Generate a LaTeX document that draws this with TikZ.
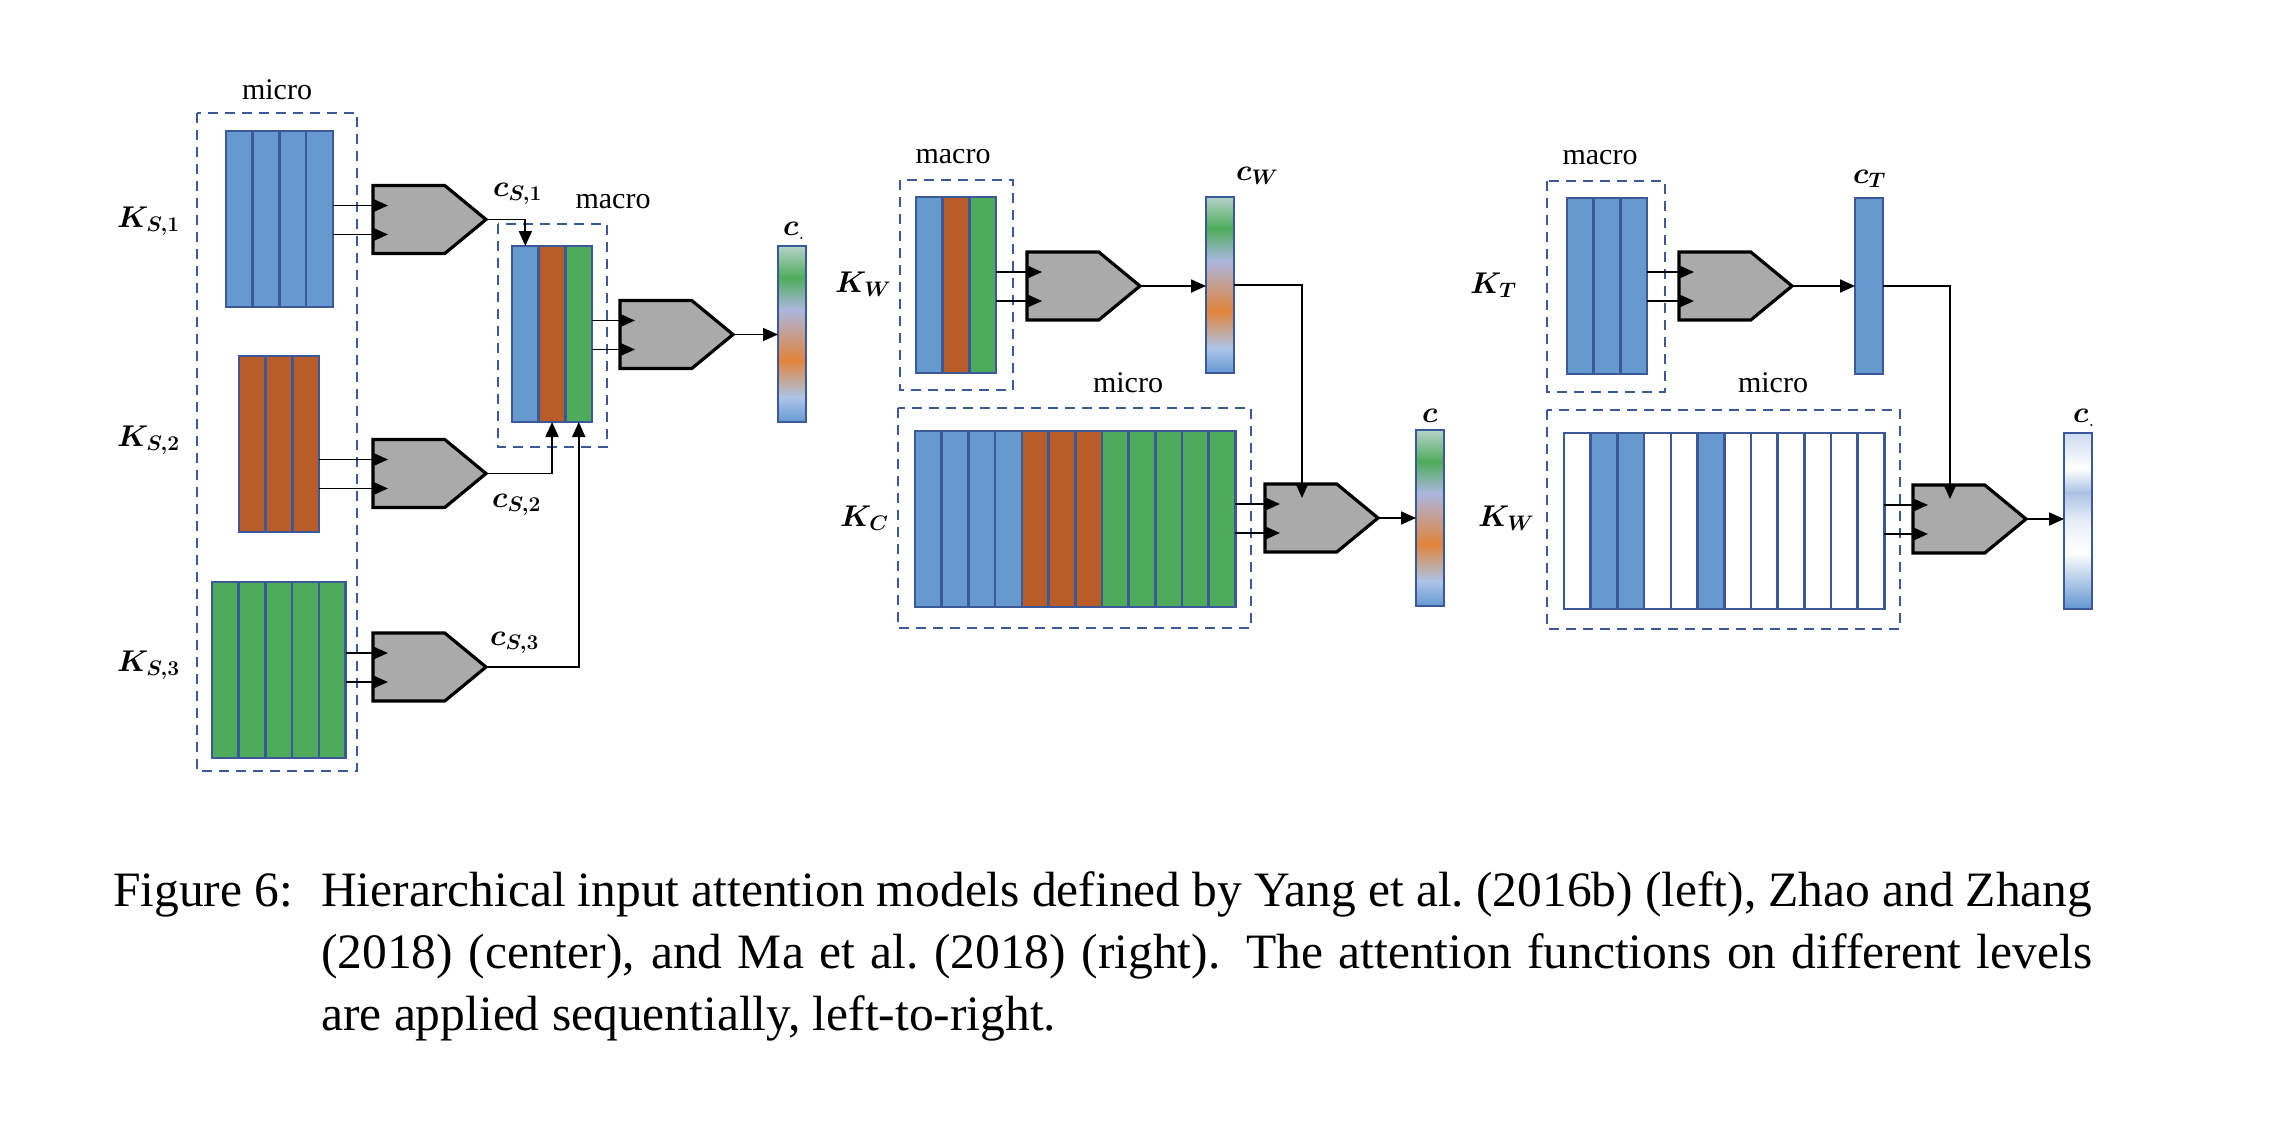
\RequirePackage{fix-cm}
\documentclass[tikz,border=0pt]{standalone}
\usepackage{fontspec}
\setmainfont{Liberation Serif}
\usepackage{bm}
\usetikzlibrary{arrows.meta,shapes.symbols,calc}
\definecolor{cblue}{RGB}{102,153,206}
\definecolor{corange}{RGB}{184,92,40}
\definecolor{cgreen}{RGB}{78,171,92}
\definecolor{cborder}{RGB}{59,89,152}
\definecolor{cgate}{RGB}{170,170,170}
\definecolor{cdash}{RGB}{59,89,152}
\definecolor{gA}{RGB}{182,210,200}
\definecolor{gG}{RGB}{78,172,92}
\definecolor{gL}{RGB}{172,182,222}
\definecolor{gO}{RGB}{224,132,60}
\definecolor{gB}{RGB}{172,196,232}
\definecolor{gD}{RGB}{102,152,210}
\definecolor{rA}{RGB}{205,218,240}
\definecolor{rB}{RGB}{172,194,228}
\definecolor{rC}{RGB}{232,238,247}
\definecolor{rD}{RGB}{100,150,208}
\newcommand\drawcols[3]{\foreach \cc [count=\i from 0] in {#3} {\filldraw[colcell, fill=\cc] ({#1+\i*26.7},#2) rectangle ({#1+(\i+1)*26.7},{#2+176});}}
\newcommand\gradbar[3]{\foreach \f/\c [remember=\f as \pf (initially 0), remember=\c as \pc (initially white)] in {#3} {\ifdim\f pt>\pf pt \fill[top color=\pc, bottom color=\c] (#1,{#2+\pf*176}) rectangle ({#1+28},{#2+\f*176});\fi}}
\newcommand\gateins[2]{\coordinate (#1a) at ($(#1.west)+(15,-14)$); \coordinate (#1b) at ($(#1.west)+(15,15)$); \draw[arr] (#2.east |- #1a) -- (#1a); \draw[arr] (#2.east |- #1b) -- (#1b);}
\begin{document}
\begin{tikzpicture}[x=1pt,y=-1pt,
  colcell/.style={draw=cborder, line width=2.6pt},
  blkframe/.style={draw=cborder, line width=2.6pt, minimum height=176pt, inner sep=0pt, outer sep=0pt, anchor=north west},
  dbox/.style={draw=cdash, line width=2.6pt, dash pattern=on 10pt off 7pt},
  gate/.style={signal, signal to=east, signal pointer angle=79, draw=black, fill=cgate, line width=3.2pt, minimum width=113pt, minimum height=68pt, inner sep=0pt, outer sep=0pt, anchor=west},
  conn/.style={draw=black, line width=1.8pt},
  arr/.style={conn, -{Triangle[length=15pt,width=13pt]}},
  vecf/.style={draw=cborder, line width=2.6pt, minimum width=28pt, minimum height=176pt, inner sep=0pt, outer sep=0pt, anchor=north west},
  lbl/.style={font=\fontsize{30}{36}\selectfont, inner sep=0pt, anchor=base},
  mlbl/.style={font=\fontsize{30}{36}\selectfont, inner sep=0pt, anchor=base west},
  captxt/.style={font=\fontsize{49.5}{62}\selectfont, inner sep=0pt, anchor=base west}]
\useasboundingbox (0,0) rectangle (2282,1120);
% dashed groups
\draw[dbox] (197,113) rectangle (357,771);
\draw[dbox] (498,224) rectangle (607,447);
\draw[dbox] (900,180) rectangle (1013,390);
\draw[dbox] (898,408) rectangle (1251,628);
\draw[dbox] (1547,181) rectangle (1665,392);
\draw[dbox] (1547,410) rectangle (1900,629);
% blocks
\drawcols{226}{131}{cblue,cblue,cblue,cblue}
\node[blkframe, minimum width=106.8pt] (KS1) at (226,131) {};
\drawcols{239}{356}{corange,corange,corange}
\node[blkframe, minimum width=80.1pt] (KS2) at (239,356) {};
\drawcols{212}{582}{cgreen,cgreen,cgreen,cgreen,cgreen}
\node[blkframe, minimum width=133.5pt] (KS3) at (212,582) {};
\drawcols{512}{246}{cblue,corange,cgreen}
\node[blkframe, minimum width=80.1pt] (MB) at (512,246) {};
\drawcols{916}{197}{cblue,corange,cgreen}
\node[blkframe, minimum width=80.1pt] (KW) at (916,197) {};
\drawcols{915}{431}{cblue,cblue,cblue,cblue,corange,corange,corange,cgreen,cgreen,cgreen,cgreen,cgreen}
\node[blkframe, minimum width=320.4pt] (KC) at (915,431) {};
\drawcols{1567}{198}{cblue,cblue,cblue}
\node[blkframe, minimum width=80.1pt] (KT) at (1567,198) {};
\drawcols{1564}{433}{white,cblue,cblue,white,white,cblue,white,white,white,white,white,white}
\node[blkframe, minimum width=320.4pt] (KR) at (1564,433) {};
% vectors
\gradbar{778}{246}{0/gA,0.18/gG,0.36/gL,0.65/gO,0.86/gB,1/gD}
\node[vecf] (cL) at (778,246) {};
\gradbar{1206}{197}{0/gA,0.18/gG,0.36/gL,0.65/gO,0.86/gB,1/gD}
\node[vecf] (cW) at (1206,197) {};
\gradbar{1416}{430}{0/gA,0.18/gG,0.36/gL,0.65/gO,0.86/gB,1/gD}
\node[vecf] (cC) at (1416,430) {};
\node[vecf, fill=cblue] (cT) at (1855,198) {};
\gradbar{2064}{433}{0/rA,0.2/white,0.34/rB,0.5/rC,0.68/white,1/rD}
\node[vecf] (cR) at (2064,433) {};
% gates
\node[gate] (G1) at (373,219.5) {};
\node[gate] (G2) at (373,473.5) {};
\node[gate] (G3) at (373,667) {};
\node[gate] (GM) at (620,334.5) {};
\node[gate] (GW) at (1027,286) {};
\node[gate] (GC) at (1265,518) {};
\node[gate] (GT) at (1679,286) {};
\node[gate] (GR) at (1913,519) {};
% inputs
\gateins{G1}{KS1}
\gateins{G2}{KS2}
\gateins{G3}{KS3}
\gateins{GM}{MB}
\gateins{GW}{KW}
\gateins{GC}{KC}
\gateins{GT}{KT}
\gateins{GR}{KR}
% outputs
\draw[arr] (G1.east) -| ($(MB.north west)+(13.35,0)$);
\draw[arr] (G2.east) -| ($(MB.south west)+(40.05,0)$);
\draw[arr] (G3.east) -| ($(MB.south west)+(66.75,0)$);
\draw[arr] (GM.east) -- (GM.east -| cL.west);
\draw[arr] (GW.east) -- (GW.east -| cW.west);
\draw[arr] (cW.east) -| ($(GC.west)+(37,-20)$);
\draw[arr] (GC.east) -- (GC.east -| cC.west);
\draw[arr] (GT.east) -- (GT.east -| cT.west);
\draw[arr] (cT.east) -| ($(GR.west)+(37,-20)$);
\draw[arr] (GR.east) -- (GR.east -| cR.west);
% text labels
\node[lbl] (tmicroL) at (277,99) {micro};
\node[lbl] (tmacroL) at (613,208) {macro};
\node[lbl] (tmacroC) at (953,163) {macro};
\node[lbl] (tmicroC) at (1128,392) {micro};
\node[lbl] (tmacroR) at (1600,164) {macro};
\node[lbl] (tmicroR) at (1773,392) {micro};
% math labels
\node[mlbl] (lKS1) at (117,227) {$\bm{K}_{\bm{S,1}}$};
\node[mlbl] (lKS2) at (117,446) {$\bm{K}_{\bm{S,2}}$};
\node[mlbl] (lKS3) at (117,671) {$\bm{K}_{\bm{S,3}}$};
\node[mlbl] (lcS1) at (493,196) {$\bm{c}_{\bm{S,1}}$};
\node[mlbl] (lcS2) at (492,507) {$\bm{c}_{\bm{S,2}}$};
\node[mlbl] (lcS3) at (490,645) {$\bm{c}_{\bm{S,3}}$};
\node[mlbl] (lcL) at (783,235) {$\bm{c}_{.}$};
\node[mlbl] (lKW) at (835,292) {$\bm{K}_{\bm{W}}$};
\node[mlbl] (lcW) at (1236,180) {$\bm{c}_{\bm{W}}$};
\node[mlbl] (lKC) at (840,526) {$\bm{K}_{\bm{C}}$};
\node[mlbl] (lcC) at (1422,422) {$\bm{c}$};
\node[mlbl] (lKT) at (1470,293) {$\bm{K}_{\bm{T}}$};
\node[mlbl] (lcT) at (1853,183) {$\bm{c}_{\bm{T}}$};
\node[mlbl] (lKR) at (1478,526) {$\bm{K}_{\bm{W}}$};
\node[mlbl] (lcR) at (2073,422) {$\bm{c}_{.}$};
% caption
\node[captxt] (figlab) at (113,906) {Figure 6:};
\node[captxt, text width=1771pt, align=justify] (cap) at (321,906) {Hierarchical input attention models defined by Yang et al.\ (2016b) (left), Zhao and Zhang\linebreak (2018) (center), and Ma et al.\ (2018) (right).  The attention functions on different levels\linebreak are applied sequentially, left-to-right.};
\end{tikzpicture}
\end{document}
